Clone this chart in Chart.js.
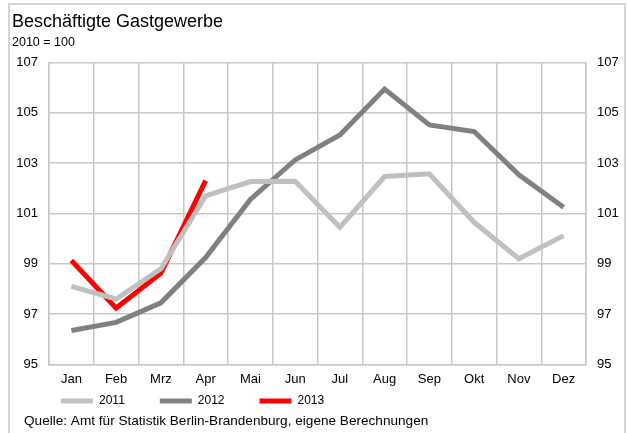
<!DOCTYPE html>
<html>
<head>
<meta charset="utf-8">
<script src="https://cdn.jsdelivr.net/npm/chart.js@4.4.1/dist/chart.umd.min.js"></script>
<style>
html,body{margin:0;padding:0;background:#fff;}
#wrap{position:relative;width:628px;height:433px;}
</style>
</head>
<body>
<div id="wrap"><canvas id="c" width="628" height="433"></canvas></div>
<script>
const months = ["Jan","Feb","Mrz","Apr","Mai","Jun","Jul","Aug","Sep","Okt","Nov","Dez"];
const y2011 = [98.1, 97.6, 98.8, 101.7, 102.27, 102.28, 100.45, 102.47, 102.58, 100.65, 99.2, 100.12];
const y2012 = [96.35, 96.67, 97.45, 99.25, 101.56, 103.13, 104.12, 105.95, 104.52, 104.26, 102.54, 101.25];
const y2013 = [99.13, 97.24, 98.63, 102.31];
const yTicks = [95, 97, 99, 101, 103, 105, 107];
const titleText = "Beschäftigte Gastgewerbe";
const subtitleText = "2010 = 100";
const sourceText = "Quelle: Amt für Statistik Berlin-Brandenburg, eigene Berechnungen";

const FONT = "'Liberation Sans', Arial, sans-serif";
const gridColor = "#c8c8c8";

const framePlugin = {
  id: 'frame',
  beforeLayout(chart) {
    const lg = chart.legend;
    if (lg && !lg._patched) {
      const f = lg.fit;
      lg.fit = function () { f.call(this); this.height = 22; };
      lg._patched = true;
    }
  },
  afterLayout(chart) {
    const lg = chart.legend;
    if (lg) {
      lg.left += 14; lg.right += 14;
      lg.top -= 34;
      lg.bottom = lg.top + 64;
      lg.height = 64;
    }
  },
  beforeDraw(chart) {
    const ctx = chart.ctx;
    ctx.save();
    ctx.fillStyle = '#ffffff';
    ctx.fillRect(0, 0, chart.width, chart.height);
    ctx.strokeStyle = '#d4d4d4';
    ctx.lineWidth = 2;
    ctx.strokeRect(9, 4, 616, 440);
    ctx.restore();
  },
  afterDraw(chart) {
    const ctx = chart.ctx;
    ctx.save();
    ctx.fillStyle = '#000';
    ctx.font = '13.6px ' + FONT;
    ctx.textBaseline = 'middle';
    ctx.textAlign = 'left';
    ctx.fillText(sourceText, 24, 421);
    ctx.restore();
  }
};

new Chart(document.getElementById('c'), {
  type: 'line',
  data: {
    labels: months,
    datasets: [
      { label: '2011', data: y2011, borderColor: '#c0c0c0', backgroundColor: '#c0c0c0', borderWidth: 5, pointRadius: 0, tension: 0, yAxisID: 'y' },
      { label: '2012', data: y2012, borderColor: '#808080', backgroundColor: '#808080', borderWidth: 5, pointRadius: 0, tension: 0, yAxisID: 'y' },
      { label: '2013', data: y2013, borderColor: '#ff0000', backgroundColor: '#ff0000', borderWidth: 5, pointRadius: 0, tension: 0, yAxisID: 'y' }
    ]
  },
  options: {
    responsive: false,
    animation: false,
    layout: { padding: { left: 12, right: 6, top: 11, bottom: 17 } },
    plugins: {
      title: { display: true, text: titleText, align: 'start', color: '#000', font: { family: FONT, size: 18, weight: 'normal' }, padding: { top: 0, bottom: 2 } },
      subtitle: { display: true, text: subtitleText, align: 'start', color: '#000', font: { family: FONT, size: 12.5, weight: 'normal' }, padding: { top: 0, bottom: 13 } },
      legend: {
        position: 'bottom', align: 'start',
        labels: { usePointStyle: true, pointStyle: 'line', pointStyleWidth: 32, boxHeight: 5, padding: 35, color: '#000', font: { family: FONT, size: 12 } }
      },
      tooltip: { enabled: false }
    },
    scales: {
      x: {
        offset: true,
        grid: { display: true, offset: true, color: gridColor, lineWidth: 1.5, drawTicks: false },
        border: { display: true, color: gridColor, width: 1.5 },
        ticks: { color: '#000', font: { family: FONT, size: 13 }, padding: 7, maxRotation: 0 }
      },
      y: {
        position: 'left', min: 95, max: 107,
        afterBuildTicks: (s) => { s.ticks = yTicks.map(v => ({ value: v })); },
        afterFit: (s) => { s.width = 37; },
        grid: { color: gridColor, lineWidth: 1.5, drawTicks: false },
        border: { display: true, color: gridColor, width: 1.5 },
        ticks: { color: '#000', font: { family: FONT, size: 13 }, padding: 11 }
      },
      y2: {
        position: 'right', min: 95, max: 107,
        afterBuildTicks: (s) => { s.ticks = yTicks.map(v => ({ value: v })); },
        afterFit: (s) => { s.width = 36; },
        grid: { display: false, drawTicks: false },
        border: { display: true, color: gridColor, width: 1.5 },
        ticks: { color: '#000', font: { family: FONT, size: 13 }, padding: 11 }
      }
    }
  },
  plugins: [framePlugin]
});
</script>
</body>
</html>
